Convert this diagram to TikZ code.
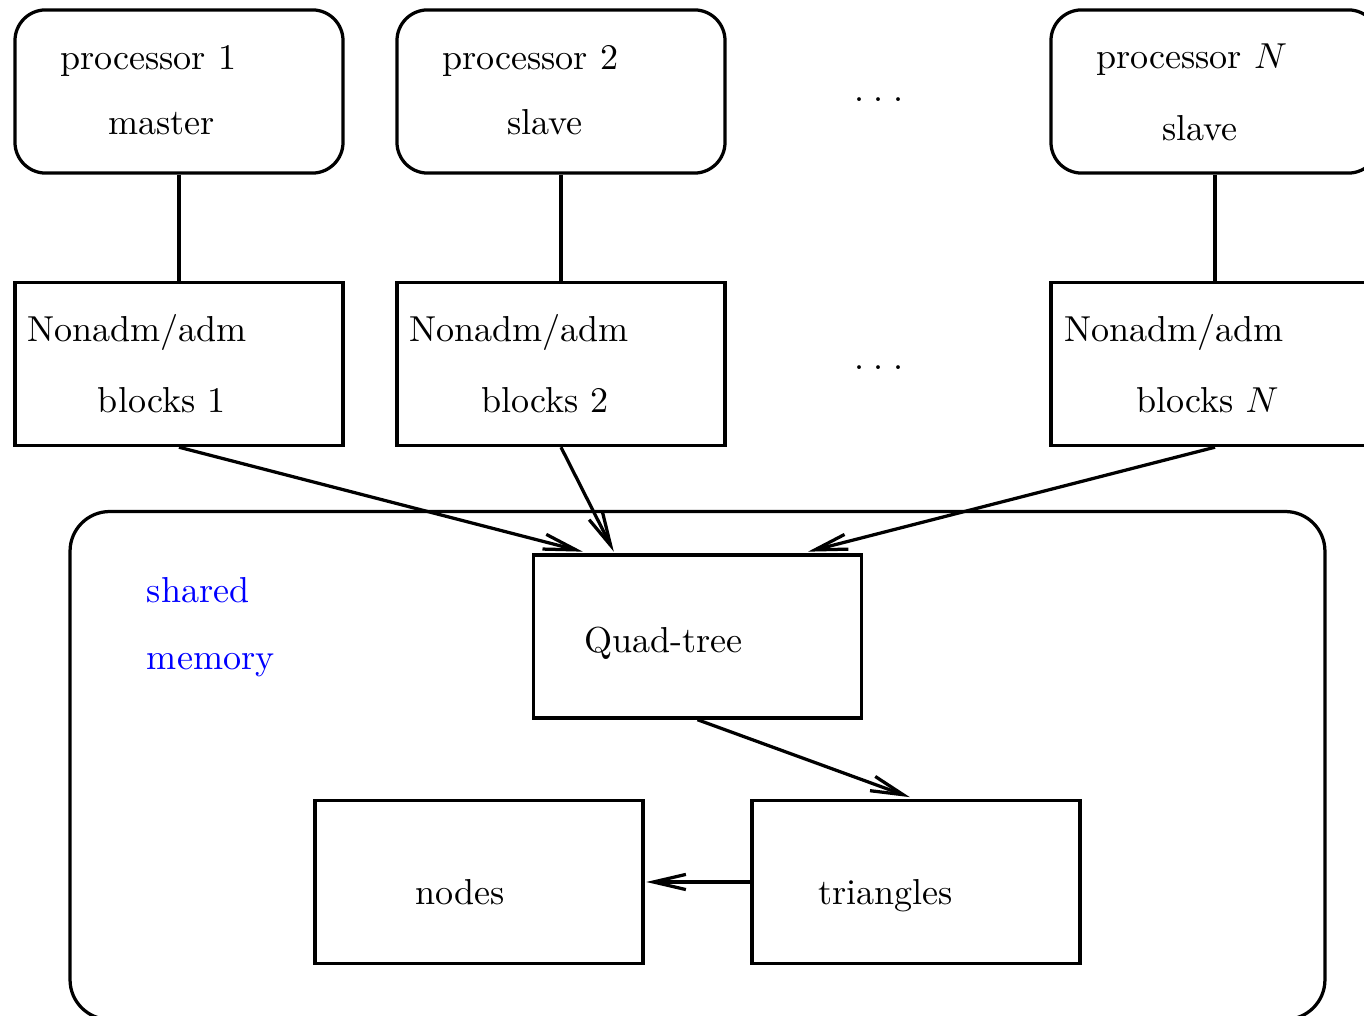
\documentclass[tikz,border=0pt]{standalone}
\usetikzlibrary{arrows.meta}
\begin{document}
\begin{tikzpicture}[x=0.277pt,y=-0.277pt,
  line width=0.9pt,
  box/.style={draw,line width=0.9pt,minimum width=90.86pt,minimum height=45.2pt,inner sep=0pt},
  procbox/.style={box,rounded corners=8.5pt},
  lbl/.style={anchor=base west,inner sep=0pt,outer sep=0pt},
  memlbl/.style={lbl,text={rgb,255:red,0;green,0;blue,255}},
  arr/.style={-{Straight Barb[length=9pt,width=4.2pt]}}]
\clip (0,0) rectangle (1364,1016);
\useasboundingbox (0,0) rectangle (1364,1016);
% shared memory
\node[draw,rounded corners=11pt,minimum width=347.6pt,minimum height=140.7pt,inner sep=0pt] (shm) at (697.5,765.5) {};
% processors
\node[procbox] (p1) at (179,91.5) {};
\node[procbox] (p2) at (561,91.5) {};
\node[procbox] (pN) at (1215,91.5) {};
% blocks
\node[box] (b1) at (179,364) {};
\node[box] (b2) at (561,364) {};
\node[box] (bN) at (1215,364) {};
% inner boxes
\node[box] (quad) at (697.5,636.5) {};
\node[box] (nodes) at (479,882) {};
\node[box] (tri) at (916,882) {};
% texts
\node[lbl] (p1a) at (60,70) {processor 1};
\node[lbl] (p1b) at (108,135) {master};
\node[lbl] (p2a) at (442,70) {processor 2};
\node[lbl] (p2b) at (507,135) {slave};
\node[lbl] (pNa) at (1096,69) {processor $N$};
\node[lbl] (pNb) at (1162,141) {slave};
\node[lbl] (b1a) at (27,342) {Nonadm/adm};
\node[lbl] (b1b) at (98,413) {blocks 1};
\node[lbl] (b2a) at (409,342) {Nonadm/adm};
\node[lbl] (b2b) at (481,413) {blocks 2};
\node[lbl] (bNa) at (1064,342) {Nonadm/adm};
\node[lbl] (bNb) at (1136,413) {blocks $N$};
\node[lbl] (d1) at (854,102) {.\kern2.75pt.\kern2.75pt.};
\node[lbl] (d2) at (854,370) {.\kern2.75pt.\kern2.75pt.};
\node[memlbl] (m1) at (147,603) {shared};
\node[memlbl] (m2) at (147,670) {memory};
\node[lbl] (qt) at (584,653) {Quad-tree};
\node[lbl] (nt) at (415,905) {nodes};
\node[lbl] (tt) at (818,905) {triangles};
% connectors
\draw (p1.south) -- (b1.north);
\draw (p2.south) -- (b2.north);
\draw (pN.south) -- (bN.north);
\draw[arr] (b1.south) -- ([xshift=14.1pt,yshift=0.45pt]quad.north west);
\draw[arr] (b2.south) -- ([xshift=22.7pt,yshift=0.45pt]quad.north west);
\draw[arr] (bN.south) -- ([xshift=76.5pt,yshift=0.45pt]quad.north west);
\draw[arr] (quad.south) -- ([xshift=-1.7pt,yshift=0.45pt]tri.north);
\draw[arr] (tri.west) -- ([xshift=0.45pt]nodes.east);
\end{tikzpicture}
\end{document}
